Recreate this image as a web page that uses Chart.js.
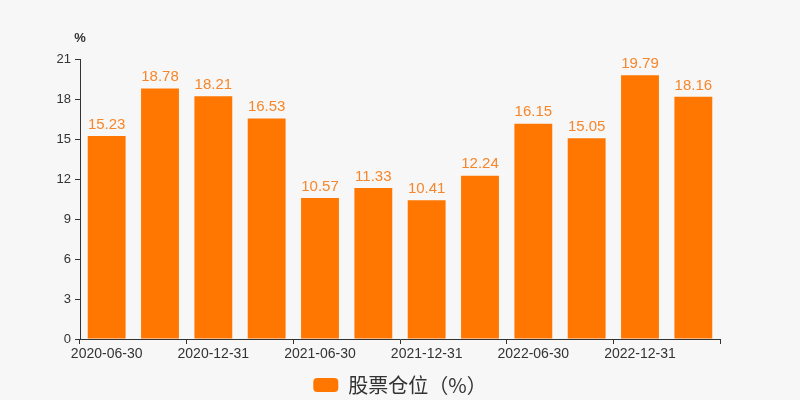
<!DOCTYPE html>
<html>
<head>
<meta charset="utf-8">
<script src="https://cdn.jsdelivr.net/npm/chart.js@4"></script>
<style>
  html, body { margin: 0; padding: 0; background: #f7f7f7; }
  #wrap { width: 800px; height: 400px; }
</style>
</head>
<body>
<div id="wrap"><canvas id="c" width="800" height="400"></canvas></div>
<script>
const labels = ['2020-06-30', '2020-09-30', '2020-12-31', '2021-03-31', '2021-06-30', '2021-09-30',
                '2021-12-31', '2022-03-31', '2022-06-30', '2022-09-30', '2022-12-31', '2023-03-31'];
const positionValues = [15.23, 18.78, 18.21, 16.53, 10.57, 11.33, 10.41, 12.24, 16.15, 15.05, 19.79, 18.16];
const yTicks = [0, 3, 6, 9, 12, 15, 18, 21];
const seriesName = '股票仓位（%）';
const unitLabel = '%';

const FONT = "Arial, 'Liberation Sans', 'Noto Sans CJK SC', sans-serif";
const CJK_FONT = "'Noto Sans CJK SC', sans-serif";
const ORANGE = '#ff7700';
const AXIS = '#333';

// only every other category gets a label and a tick mark
const everyOther = (ctx) => (ctx.index === undefined || ctx.index % 2 === 0) ? AXIS : 'rgba(0,0,0,0)';

// values above the bars + unit text above y axis
const valueLabels = {
    id: 'valueLabels',
    afterDatasetsDraw(chart) {
        const ctx = chart.ctx;
        const meta = chart.getDatasetMeta(0);
        ctx.save();
        ctx.font = '15px ' + FONT;
        ctx.fillStyle = '#f7862a';
        ctx.textAlign = 'center';
        ctx.textBaseline = 'bottom';
        meta.data.forEach((bar, i) => {
            ctx.fillText(positionValues[i].toFixed(2), bar.x, bar.y - 4);
        });
        const y = chart.scales.y;
        ctx.font = 'bold 13px ' + FONT;
        ctx.fillStyle = '#333';
        ctx.fillText(unitLabel, y.right, y.top - 14);
        ctx.restore();
    }
};

new Chart(document.getElementById('c'), {
    type: 'bar',
    data: {
        labels: labels,
        datasets: [{
            label: seriesName,
            data: positionValues,
            backgroundColor: ORANGE,
            barPercentage: 0.71,
            categoryPercentage: 1.0
        }]
    },
    options: {
        responsive: false,
        animation: false,
        layout: { padding: { top: 59, right: 0, left: 0, bottom: -5 } },
        scales: {
            x: {
                offset: true,
                grid: { display: true, drawOnChartArea: false, offset: true, tickLength: 5, color: everyOther },
                border: { color: AXIS },
                ticks: {
                    autoSkip: false, maxRotation: 0, color: '#333', padding: 2,
                    font: { size: 14, family: FONT },
                    callback(v, i) { return i % 2 === 0 ? labels[i] : ''; }
                },
                afterFit(axis) { axis.height = 34; }
            },
            y: {
                min: 0, max: 21,
                grid: { display: true, drawOnChartArea: false, tickLength: 5, color: AXIS },
                border: { color: AXIS },
                afterBuildTicks(axis) {
                    axis.ticks = yTicks.map(v => ({ value: v }));
                },
                ticks: { color: '#333', padding: 4, font: { size: 13, family: FONT } },
                afterFit(axis) { axis.width = 80; }
            },
            // empty right-hand axis, only reserves the right margin
            yRight: {
                position: 'right',
                min: 0, max: 21,
                grid: { display: false },
                border: { display: false },
                ticks: { display: false },
                afterFit(axis) { axis.width = 80; }
            }
        },
        plugins: {
            legend: {
                position: 'bottom',
                labels: {
                    color: '#333',
                    font: { size: 20, family: CJK_FONT },
                    boxWidth: 25, boxHeight: 14,
                    useBorderRadius: true, borderRadius: 4,
                    padding: 2
                }
            },
            tooltip: { enabled: false }
        }
    },
    plugins: [valueLabels]
});
</script>
</body>
</html>
